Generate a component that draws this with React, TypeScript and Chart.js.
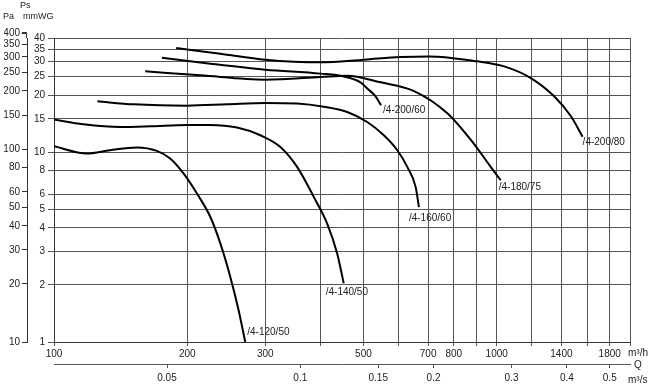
import React, { useEffect, useRef } from 'react';
import { Chart, registerables } from 'chart.js';
Chart.register(...registerables);

// ---- Axis ticks ----
const flowTicks = [100, 200, 300, 400, 500, 600, 700, 800, 900, 1000, 1200, 1400, 1600, 1800, 2000];
const flowLabels = [100, 200, 300, 500, 700, 800, 1000, 1400, 1800];
const flowSecTicks = [0.05, 0.1, 0.15, 0.2, 0.3, 0.4, 0.5];
const mmTicks = [1, 2, 3, 4, 5, 6, 8, 10, 15, 20, 25, 30, 35, 40];
const paTicks = [10, 20, 30, 40, 50, 60, 80, 100, 150, 200, 250, 300, 350, 400];

// ---- Series (Q in m3/h, Ps in mmWG) ----
const seriesNames = ['/4-120/50', '/4-140/50', '/4-160/60', '/4-180/75', '/4-200/60', '/4-200/80'];

const q120 = [100, 118.6, 133.8, 153.9, 170.8, 183, 196.1, 210.3, 225.4, 237.5, 250.1, 261.2, 270.4];
const p120 = [10.75, 9.85, 10.25, 10.6, 10.16, 9.26, 7.73, 6.06, 4.57, 3.31, 2.21, 1.47, 1.0];

const q140 = [100, 116.5, 141, 164.9, 199.7, 225.4, 259, 292.5, 324.6, 354.1, 386.1, 414, 436.1, 451.2];
const p140 = [14.86, 14.04, 13.59, 13.7, 13.92, 13.92, 13.49, 12.29, 10.66, 8.37, 5.82, 4.21, 2.93, 2.04];

const q160 = [125.3, 151.2, 199.7, 245.9, 300.1, 354.1, 406.7, 459.4, 509.9, 555.9, 596.3, 628, 655.8, 667.3];
const p160 = [18.55, 17.89, 17.6, 17.89, 18.17, 18.04, 17.36, 16.3, 14.44, 12.29, 10.25, 8.37, 6.57, 5.14];

const q180 = [160.7, 214, 300.1, 399.7, 459.4, 546.6, 649, 773.5, 887.2, 969.2, 1021];
const p180 = [26.69, 25.42, 24.13, 24.9, 25.33, 23.36, 21.07, 16.04, 11.11, 8.37, 7.12];

const q200a = [175.3, 225.4, 300.1, 399.7, 451.2, 492.4, 511, 532.4, 548];
const p200a = [31.5, 29.3, 27.25, 25.96, 25.1, 23.36, 21.6, 19.71, 17.68];

const q200b = [188.8, 237.5, 300.1, 399.7, 501, 606.6, 702.8, 904.4, 1039, 1194, 1348, 1471, 1563];
const p200b = [35.4, 33.07, 30.75, 29.77, 30.75, 31.73, 32.0, 30.13, 28.35, 24.61, 19.71, 15.47, 12.07];

const seriesQ = [q120, q140, q160, q180, q200a, q200b];
const seriesP = [p120, p140, p160, p180, p200a, p200b];

// label offsets (pixels) relative to each curve's end point
const labelOffsets: [number, number][] = [
  [2, -10],
  [-18, 9],
  [-10, 11],
  [-2, 7],
  [2, 5],
  [0, 6],
];

const FONT = '"Liberation Sans Narrow", "Liberation Sans", Arial, sans-serif';
const TEXT = '#222';
const GRID = '#555';

const annotations = {
  id: 'annotations',
  afterDatasetsDraw(chart: any) {
    const ctx = chart.ctx;
    ctx.save();
    // extend the Pa axis line up to its last tick (above the plot area)
    const pa = chart.scales.pa;
    const yTop = Math.round(pa.getPixelForValue(paTicks[paTicks.length - 1])) + 0.5;
    const xr = Math.round(pa.right) - 0.5;
    ctx.strokeStyle = '#333';
    ctx.lineWidth = 1;
    ctx.beginPath();
    ctx.moveTo(xr, chart.chartArea.top);
    ctx.lineTo(xr, yTop);
    ctx.lineTo(xr - 5, yTop);
    ctx.stroke();

    ctx.fillStyle = TEXT;
    ctx.font = `10px ${FONT}`;
    ctx.textBaseline = 'middle';
    ctx.textAlign = 'left';
    chart.data.datasets.forEach((ds: any, i: number) => {
      const meta = chart.getDatasetMeta(i);
      const last = meta.data[meta.data.length - 1];
      const [dx, dy] = labelOffsets[i];
      ctx.fillText(ds.label, last.x + dx, last.y + dy);
    });
    // axis unit captions
    ctx.font = `9px ${FONT}`;
    ctx.fillText('Ps', 20, 6);
    ctx.fillText('Pa', 3, 17);
    ctx.fillText('mmWG', 23, 17);
    ctx.font = `10px ${FONT}`;
    ctx.fillText('m³/h', 628, 353);
    ctx.fillText('Q', 634, 365);
    ctx.fillText('m³/s', 628, 380);
    ctx.restore();
  },
};

export default function App() {
  const ref = useRef<HTMLCanvasElement>(null);
  useEffect(() => {
    if (!ref.current) return;
    const tickFont = { family: FONT, size: 10 };
    const chart = new Chart(ref.current, {
      type: 'line',
      data: {
        datasets: seriesNames.map((name, i) => ({
          label: name,
          data: seriesQ[i].map((q, j) => ({ x: q, y: seriesP[i][j] })),
          borderColor: '#000',
          borderWidth: 2,
          pointRadius: 0,
          fill: false,
          cubicInterpolationMode: 'monotone' as const,
          xAxisID: 'x',
          yAxisID: 'y',
        })),
      },
      options: {
        animation: false,
        responsive: false,
        events: [],
        layout: { padding: { left: 4, top: 38, right: 20, bottom: 0 } },
        plugins: { legend: { display: false }, tooltip: { enabled: false } },
        scales: {
          x: {
            type: 'logarithmic',
            position: 'bottom',
            weight: 0,
            min: 100,
            max: 2000,
            afterBuildTicks: (s: any) => {
              s.ticks = flowTicks.map((v) => ({ value: v }));
            },
            afterFit: (s: any) => {
              s.height = 22;
            },
            ticks: {
              autoSkip: false,
              maxRotation: 0,
              minRotation: 0,
              padding: 2,
              color: TEXT,
              font: tickFont,
              callback: (v: any) => (flowLabels.includes(Number(v)) ? String(v) : ''),
            },
            grid: { color: GRID, tickLength: 4, lineWidth: 1 },
            border: { color: '#333', width: 1 },
          },
          x2: {
            type: 'logarithmic',
            position: 'bottom',
            weight: 1,
            min: 100 / 3600,
            max: 2000 / 3600,
            afterBuildTicks: (s: any) => {
              s.ticks = flowSecTicks.map((v) => ({ value: v }));
            },
            afterFit: (s: any) => {
              s.height = 21;
            },
            ticks: {
              autoSkip: false,
              maxRotation: 0,
              minRotation: 0,
              padding: 4,
              color: TEXT,
              font: tickFont,
              callback: (v: any) => String(v),
            },
            grid: { drawOnChartArea: false, color: GRID, tickLength: 4 },
            border: { color: GRID, width: 1 },
          },
          y: {
            type: 'logarithmic',
            position: 'left',
            weight: 0,
            min: 1,
            max: 40,
            afterBuildTicks: (s: any) => {
              s.ticks = mmTicks.map((v) => ({ value: v }));
            },
            afterFit: (s: any) => {
              s.width = 27;
            },
            ticks: {
              autoSkip: false,
              padding: 3,
              color: TEXT,
              font: tickFont,
              callback: (v: any) => String(v),
            },
            grid: { color: GRID, tickLength: 6, lineWidth: 1 },
            border: { color: '#333', width: 1 },
          },
          pa: {
            type: 'logarithmic',
            position: 'left',
            weight: 1,
            min: 10,
            max: 376,
            afterBuildTicks: (s: any) => {
              s.ticks = paTicks.map((v) => ({ value: v }));
            },
            afterFit: (s: any) => {
              s.width = 23;
            },
            ticks: {
              autoSkip: false,
              padding: 2,
              color: TEXT,
              font: tickFont,
              callback: (v: any) => String(v),
            },
            grid: { drawOnChartArea: false, color: '#333', tickLength: 5 },
            border: { color: '#333', width: 1 },
          },
        },
      } as any,
      plugins: [annotations],
    });
    return () => chart.destroy();
  }, []);
  return (
    <div style={{ position: 'fixed', left: 0, top: 0, width: 650, height: 385, background: '#fff' }}>
      <canvas ref={ref} width={650} height={385} style={{ display: 'block' }} />
    </div>
  );
}
